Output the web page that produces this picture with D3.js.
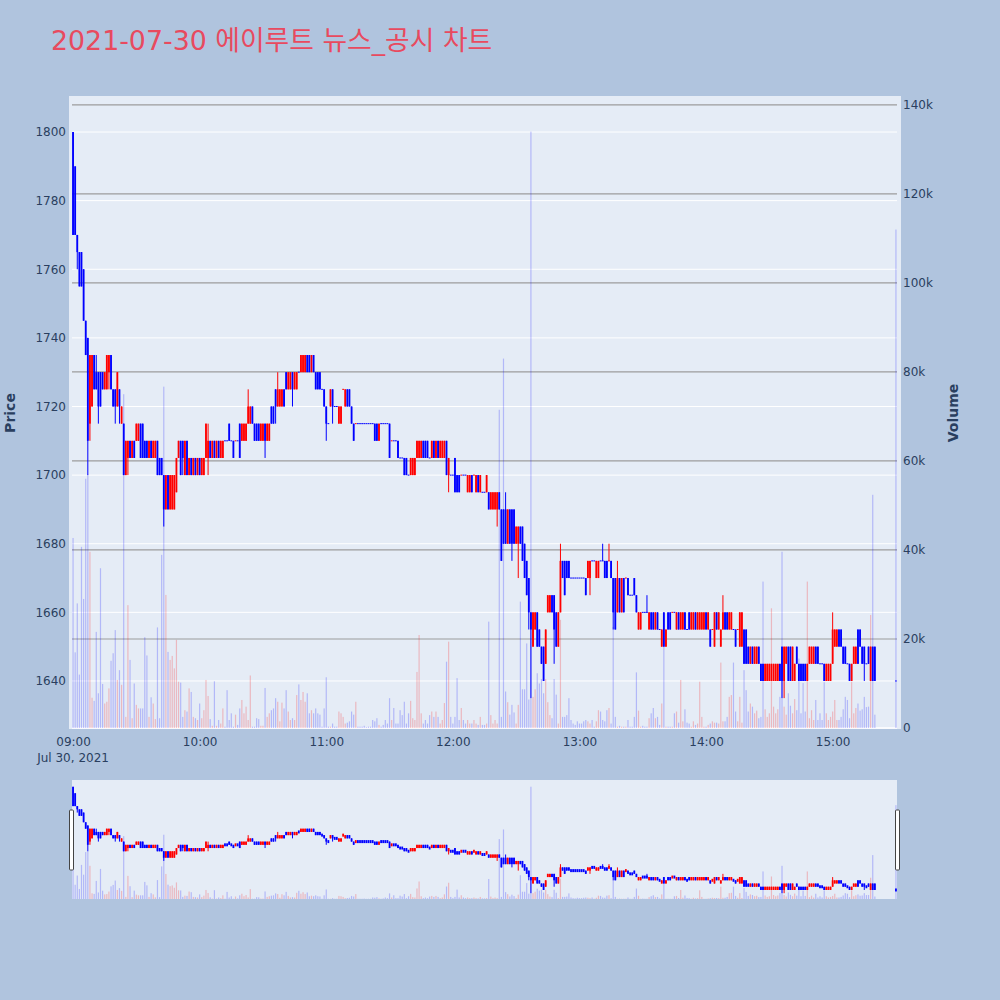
<!DOCTYPE html>
<html lang="ko">
<head>
<meta charset="utf-8">
<title>에이루트 뉴스_공시 차트</title>
<script src="https://d3js.org/d3.v7.min.js"></script>
<style>
  body { margin: 0; background: #b0c4de; }
  svg { display: block; font-family: "DejaVu Sans", "Noto Sans CJK KR", sans-serif; }
</style>
</head>
<body>
<div id="chart"></div>
<script>
// one-minute candles, 09:00 .. 15:20, then the 15:30 closing print
const minutes = d3.range(381).concat([390]);

const opens = [
  1800,1790,1770,1765,1765,1760,1745,1740,1715,1720,
  1735,1730,1730,1730,1730,1725,1725,1730,1735,1725,
  1725,1720,1725,1715,1715,1700,1705,1710,1705,1710,
  1710,1710,1715,1715,1710,1710,1705,1710,1705,1705,
  1710,1705,1705,1700,1690,1700,1690,1690,1690,1695,
  1705,1710,1710,1700,1710,1700,1705,1700,1705,1700,
  1705,1700,1700,1705,1705,1710,1705,1710,1705,1710,
  1705,1705,1710,1710,1715,1710,1710,1710,1710,1715,
  1710,1710,1710,1715,1715,1720,1715,1715,1715,1710,
  1710,1715,1710,1710,1720,1720,1725,1720,1720,1720,
  1725,1730,1725,1725,1730,1725,1725,1730,1730,1730,
  1730,1735,1735,1730,1735,1730,1730,1730,1725,1725,
  1720,1715,1720,1725,1720,1720,1715,1715,1725,1720,
  1725,1725,1720,1715,1715,1715,1715,1715,1715,1715,
  1715,1715,1715,1715,1715,1710,1715,1715,1715,1715,
  1715,1710,1710,1710,1710,1705,1705,1705,1705,1700,
  1700,1700,1700,1705,1705,1705,1710,1710,1710,1705,
  1705,1710,1705,1710,1705,1705,1705,1710,1700,1700,
  1700,1705,1700,1700,1700,1700,1700,1695,1695,1700,
  1700,1695,1700,1695,1695,1695,1695,1695,1690,1690,
  1690,1690,1695,1690,1690,1690,1680,1690,1690,1690,
  1680,1680,1685,1685,1680,1675,1670,1660,1650,1655,
  1660,1655,1650,1650,1645,1660,1660,1665,1665,1660,
  1650,1660,1675,1675,1675,1675,1670,1670,1670,1670,
  1670,1670,1670,1670,1670,1670,1675,1675,1670,1670,
  1675,1675,1675,1675,1675,1675,1670,1670,1660,1670,
  1660,1670,1670,1670,1665,1665,1670,1665,1655,1655,
  1660,1660,1660,1655,1660,1660,1655,1660,1655,1650,
  1660,1650,1660,1660,1660,1660,1655,1660,1655,1655,
  1660,1655,1660,1655,1655,1660,1655,1655,1655,1655,
  1660,1655,1655,1655,1650,1660,1655,1650,1655,1660,
  1660,1655,1655,1655,1655,1655,1650,1650,1655,1655,
  1650,1645,1650,1645,1645,1650,1645,1645,1640,1640,
  1640,1640,1640,1640,1640,1645,1650,1640,1645,1650,
  1650,1640,1640,1650,1645,1645,1645,1645,1640,1645,
  1645,1645,1650,1650,1645,1645,1645,1640,1640,1640,
  1645,1650,1650,1655,1655,1650,1650,1645,1645,1640,
  1645,1645,1655,1655,1650,1650,1645,1650,1640,1650,
  1650,
  1640
];

const highs = [
  1800,1790,1770,1765,1765,1760,1745,1740,1735,1735,
  1735,1735,1730,1730,1730,1730,1735,1735,1735,1725,
  1725,1730,1725,1720,1715,1710,1710,1710,1710,1710,
  1715,1715,1715,1715,1710,1710,1710,1710,1710,1710,
  1710,1705,1705,1700,1700,1700,1700,1700,1700,1705,
  1710,1710,1710,1710,1710,1705,1705,1705,1705,1705,
  1705,1705,1705,1715,1715,1710,1710,1710,1710,1710,
  1710,1710,1710,1710,1715,1710,1710,1710,1710,1715,
  1715,1715,1715,1725,1720,1720,1715,1715,1715,1715,
  1715,1715,1715,1715,1720,1720,1725,1730,1725,1725,
  1725,1730,1730,1730,1730,1730,1730,1730,1735,1735,
  1735,1735,1735,1735,1735,1730,1730,1730,1725,1725,
  1720,1715,1725,1725,1720,1720,1720,1720,1725,1725,
  1725,1725,1720,1715,1715,1715,1715,1715,1715,1715,
  1715,1715,1715,1715,1715,1715,1715,1715,1715,1715,
  1715,1710,1710,1710,1710,1705,1705,1705,1705,1700,
  1705,1705,1705,1710,1710,1710,1710,1710,1710,1705,
  1710,1710,1710,1710,1710,1710,1710,1710,1705,1700,
  1700,1705,1700,1700,1700,1700,1700,1700,1700,1700,
  1700,1700,1700,1700,1695,1695,1700,1695,1695,1695,
  1695,1695,1695,1690,1690,1695,1690,1690,1690,1690,
  1685,1685,1685,1685,1680,1675,1670,1660,1660,1660,
  1660,1655,1650,1650,1655,1665,1665,1665,1665,1660,
  1660,1680,1675,1675,1675,1675,1670,1670,1670,1670,
  1670,1670,1670,1670,1675,1675,1675,1675,1675,1675,
  1675,1680,1675,1675,1680,1675,1670,1670,1675,1670,
  1670,1670,1670,1670,1665,1665,1670,1665,1660,1660,
  1660,1660,1665,1660,1660,1660,1660,1660,1655,1655,
  1660,1655,1660,1660,1660,1660,1660,1660,1660,1660,
  1660,1655,1660,1660,1660,1660,1660,1660,1660,1660,
  1660,1660,1655,1655,1660,1660,1660,1655,1665,1660,
  1660,1660,1660,1655,1655,1655,1660,1660,1655,1655,
  1650,1650,1650,1650,1650,1650,1645,1645,1645,1645,
  1645,1645,1645,1645,1645,1645,1650,1650,1650,1650,
  1650,1650,1645,1650,1645,1645,1645,1645,1645,1650,
  1650,1650,1650,1650,1645,1645,1645,1645,1645,1645,
  1660,1655,1655,1655,1655,1650,1650,1645,1645,1645,
  1650,1650,1655,1655,1650,1650,1645,1650,1650,1650,
  1650,
  1640
];

const lows = [
  1770,1770,1760,1755,1755,1745,1735,1700,1710,1720,
  1725,1725,1715,1720,1725,1725,1725,1725,1725,1720,
  1715,1720,1715,1715,1700,1700,1700,1705,1705,1705,
  1710,1710,1705,1705,1705,1705,1705,1705,1705,1705,
  1700,1700,1700,1685,1690,1690,1690,1690,1690,1695,
  1705,1700,1700,1700,1700,1700,1700,1700,1700,1700,
  1700,1700,1700,1705,1700,1705,1705,1705,1705,1705,
  1705,1705,1710,1710,1710,1710,1705,1710,1710,1705,
  1710,1710,1710,1715,1715,1715,1710,1710,1710,1710,
  1710,1705,1710,1710,1715,1715,1715,1720,1720,1720,
  1720,1725,1725,1725,1720,1725,1725,1730,1730,1730,
  1730,1730,1730,1730,1730,1725,1725,1725,1725,1720,
  1710,1715,1720,1715,1720,1720,1715,1715,1725,1720,
  1720,1720,1715,1710,1715,1715,1715,1715,1715,1715,
  1715,1715,1715,1710,1710,1710,1715,1715,1715,1715,
  1705,1710,1710,1710,1705,1705,1705,1700,1700,1700,
  1700,1700,1700,1705,1705,1705,1705,1705,1705,1705,
  1705,1705,1705,1705,1705,1705,1705,1700,1695,1700,
  1700,1695,1695,1695,1700,1700,1700,1695,1695,1695,
  1700,1695,1695,1695,1695,1695,1695,1690,1690,1690,
  1690,1685,1690,1675,1680,1680,1680,1680,1675,1680,
  1680,1670,1680,1675,1670,1665,1655,1635,1650,1655,
  1650,1650,1645,1640,1645,1660,1660,1660,1645,1650,
  1650,1660,1670,1665,1670,1670,1670,1670,1670,1670,
  1670,1670,1670,1665,1670,1665,1675,1675,1670,1670,
  1675,1675,1670,1670,1675,1670,1655,1655,1660,1660,
  1660,1660,1670,1665,1665,1665,1665,1660,1655,1655,
  1660,1660,1660,1655,1655,1655,1655,1655,1655,1650,
  1650,1650,1655,1655,1660,1660,1655,1655,1655,1655,
  1655,1655,1655,1655,1655,1655,1655,1655,1655,1655,
  1655,1655,1650,1655,1650,1655,1655,1650,1655,1655,
  1655,1655,1655,1655,1650,1655,1650,1650,1645,1645,
  1645,1645,1645,1645,1645,1645,1640,1640,1640,1640,
  1640,1640,1640,1640,1640,1640,1635,1635,1645,1640,
  1640,1640,1640,1645,1640,1640,1640,1640,1640,1645,
  1645,1645,1645,1645,1645,1645,1640,1640,1640,1640,
  1645,1650,1650,1650,1650,1645,1645,1645,1640,1640,
  1645,1645,1645,1650,1645,1640,1645,1645,1640,1640,
  1640,
  1640
];

const closes = [
  1770,1770,1765,1755,1755,1745,1735,1710,1735,1735,
  1725,1725,1720,1720,1725,1730,1735,1735,1725,1720,
  1720,1730,1720,1720,1700,1710,1710,1705,1710,1705,
  1715,1715,1705,1705,1705,1705,1710,1705,1710,1710,
  1700,1700,1700,1690,1700,1690,1700,1700,1700,1705,
  1710,1700,1705,1710,1700,1705,1700,1705,1700,1705,
  1700,1705,1705,1715,1710,1705,1710,1705,1710,1705,
  1710,1710,1710,1710,1710,1710,1705,1710,1710,1705,
  1715,1715,1715,1720,1720,1715,1710,1710,1710,1715,
  1715,1710,1715,1715,1715,1715,1720,1725,1725,1725,
  1720,1725,1730,1730,1725,1730,1730,1730,1735,1735,
  1735,1730,1730,1735,1730,1725,1725,1725,1725,1720,
  1715,1715,1725,1720,1720,1720,1720,1720,1725,1725,
  1720,1720,1715,1710,1715,1715,1715,1715,1715,1715,
  1715,1715,1715,1710,1710,1715,1715,1715,1715,1715,
  1705,1710,1710,1710,1705,1705,1705,1700,1700,1700,
  1705,1705,1705,1710,1710,1710,1705,1705,1705,1705,
  1710,1705,1710,1705,1710,1710,1710,1700,1705,1700,
  1700,1695,1695,1695,1700,1700,1700,1700,1700,1695,
  1700,1700,1695,1700,1695,1695,1700,1690,1695,1695,
  1695,1695,1690,1675,1680,1680,1690,1680,1680,1680,
  1685,1685,1680,1675,1670,1665,1660,1655,1660,1660,
  1650,1650,1645,1640,1655,1665,1665,1660,1655,1650,
  1660,1675,1670,1665,1670,1670,1670,1670,1670,1670,
  1670,1670,1670,1665,1675,1675,1675,1675,1675,1675,
  1675,1675,1670,1670,1675,1670,1660,1655,1670,1660,
  1670,1660,1670,1665,1665,1665,1665,1660,1660,1660,
  1660,1660,1660,1660,1655,1655,1660,1655,1655,1655,
  1650,1655,1655,1655,1660,1660,1660,1655,1660,1660,
  1655,1655,1655,1660,1660,1655,1660,1660,1660,1660,
  1655,1660,1650,1655,1660,1655,1660,1655,1660,1655,
  1655,1660,1660,1655,1650,1655,1660,1660,1645,1645,
  1645,1650,1645,1650,1650,1645,1640,1640,1645,1645,
  1645,1645,1645,1645,1645,1640,1640,1650,1650,1640,
  1640,1650,1645,1645,1640,1640,1640,1640,1645,1650,
  1650,1650,1645,1645,1645,1645,1640,1645,1645,1645,
  1655,1655,1655,1650,1650,1645,1645,1645,1640,1645,
  1650,1650,1645,1650,1645,1645,1645,1645,1650,1640,
  1640,
  1640
];

const volumes = [
  42700,17000,28000,12000,40700,29000,56000,57000,39600,6800,
  6100,21600,7800,35900,9900,5500,5900,8900,15100,16800,
  22000,10800,13000,9700,75000,2500,27600,15300,2200,10000,
  5200,4400,4400,4400,20400,16300,2500,6900,5500,2000,
  22600,2200,38900,76700,29900,17100,15300,16200,13400,19800,
  10400,10200,2500,4000,3700,8900,8100,2500,2200,1800,
  5500,2200,4000,10800,7200,2000,500,10500,500,1800,
  1000,4400,300,8500,1800,3300,300,3000,700,4400,
  6300,3300,4800,1800,11800,300,300,2200,2000,500,
  500,9000,2500,3300,4000,4400,6700,5900,1500,5700,
  4400,8500,3700,1800,2200,1800,7400,9800,6300,8100,
  5900,7800,3300,4000,3300,4400,3300,3000,300,4400,
  11400,300,300,1000,300,300,3700,3300,2500,1000,
  1200,1500,3700,3000,5900,300,300,300,500,200,
  300,300,1800,1500,2200,700,300,700,1800,1000,
  6700,1800,4500,1000,1000,4000,2900,5900,1000,3300,
  6100,2200,1800,12600,20900,3300,1000,1800,1000,2900,
  3700,2500,3700,2500,1000,1800,5600,14900,19400,2500,
  1000,2500,11200,1800,4500,1800,1000,1800,1000,1000,
  1800,1000,700,2500,700,700,1000,23900,2900,1000,
  1800,1000,71500,2500,83000,8200,5800,3000,5200,3500,
  1000,5200,28400,8700,8700,19000,6400,134000,7000,8700,
  12300,10000,11000,7800,11000,5800,2900,2200,11000,7500,
  1000,24300,2500,2500,2900,6700,1800,1000,700,1500,
  1000,1000,1500,1800,1500,1000,1800,300,1500,4000,
  3700,1800,1500,4000,4500,1000,22700,2500,300,500,
  300,300,300,1800,300,300,2500,12500,3900,300,
  500,300,300,2200,3300,4500,2200,2500,700,5500,
  18300,300,300,300,300,3300,3700,1200,10800,1500,
  4200,1200,1000,300,1500,700,1000,10400,2500,300,
  300,700,1000,1500,1200,1200,1000,14700,1500,1500,
  2500,7000,7400,14700,3700,1500,7000,1200,13000,8500,
  3700,5500,4800,3300,3900,2200,2500,32900,4200,2500,
  3300,26900,4800,3300,4200,7000,39600,4800,3000,7800,
  5000,3300,6500,4000,15600,3300,10100,3700,32900,2200,
  4000,1800,6300,1800,3300,1800,10300,3300,1800,2500,
  3700,6300,1800,1800,2500,4200,7000,6300,2200,10400,
  3300,4500,5500,3900,4200,7000,4700,4800,25400,52400,
  3000,
  112000
];

const hourTicks = [0, 60, 120, 180, 240, 300, 360];
const hourLabels = ["09:00", "10:00", "11:00", "12:00", "13:00", "14:00", "15:00"];
const priceTicks = [1640, 1660, 1680, 1700, 1720, 1740, 1760, 1780, 1800];
const volumeTicks = [0, 20000, 40000, 60000, 80000, 100000, 120000, 140000];

const UP = "#ff0000", DOWN = "#0000ff", TEXT = "#2a3f5f";

const candles = minutes.map((m, i) => {
  const o = opens[i], c = closes[i];
  const prev = i > 0 ? closes[i - 1] : o;
  const up = c > o || (c === o && c > prev);
  return {m, o, h: highs[i], l: lows[i], c, v: volumes[i], up};
});

const svg = d3.select("#chart").append("svg")
  .attr("width", 1000).attr("height", 1000);

// title
svg.append("text")
  .attr("x", 51).attr("y", 50)
  .attr("fill", "#e84a5f")
  .style("font-size", "26.8px")
  .text("2021-07-30 에이루트 뉴스_공시 차트");

// main plot
const x = d3.scaleLinear().domain([-0.5, 390.5]).range([72, 897]);
const yPrice = d3.scaleLinear().domain([1626, 1810.5]).range([729, 96]);
const yVol = d3.scaleLinear().domain([0, 142000]).range([728, 96]);

svg.append("rect")
  .attr("x", 69).attr("y", 96).attr("width", 832).attr("height", 633)
  .attr("fill", "#e5ecf6");

svg.append("g").selectAll("line")
  .data(priceTicks)
  .join("line")
  .attr("x1", 72).attr("x2", 897)
  .attr("y1", d => yPrice(d)).attr("y2", d => yPrice(d))
  .attr("stroke", "#fff").attr("stroke-width", 1);

svg.append("g").selectAll("line")
  .data(volumeTicks)
  .join("line")
  .attr("x1", 72).attr("x2", 897)
  .attr("y1", d => yVol(d)).attr("y2", d => yVol(d))
  .attr("stroke", d => d === 0 ? "#fff" : "#9c9c9c")
  .attr("stroke-width", d => d === 0 ? 1.5 : 1.2);

function drawSeries(g, xs, yp, yv, minBody) {
  // volume bars, faint, under the candles
  g.append("g").selectAll("rect")
    .data(candles)
    .join("rect")
    .attr("x", d => xs(d.m) - 0.6)
    .attr("width", 1.2)
    .attr("y", d => yv(d.v))
    .attr("height", d => yv(0) - yv(d.v))
    .attr("fill", d => d.up ? UP : DOWN)
    .attr("fill-opacity", 0.22);

  // wicks
  g.append("g").selectAll("line")
    .data(candles.filter(d => d.h !== d.l))
    .join("line")
    .attr("x1", d => xs(d.m)).attr("x2", d => xs(d.m))
    .attr("y1", d => yp(d.h)).attr("y2", d => yp(d.l))
    .attr("stroke", d => d.up ? UP : DOWN)
    .attr("stroke-width", 1);

  // bodies
  g.append("g").selectAll("rect")
    .data(candles)
    .join("rect")
    .attr("x", d => xs(d.m) - 0.9)
    .attr("width", 1.8)
    .attr("y", d => {
      const top = yp(Math.max(d.o, d.c)), h = Math.abs(yp(d.o) - yp(d.c));
      return h < minBody ? top - (minBody - h) / 2 : top;
    })
    .attr("height", d => Math.max(minBody, Math.abs(yp(d.o) - yp(d.c))))
    .attr("fill", d => d.up ? UP : DOWN);
}

drawSeries(svg.append("g"), x, yPrice, yVol, 1);

// axes
const axisLeft = svg.append("g")
  .attr("transform", "translate(72,0)")
  .call(d3.axisLeft(yPrice).tickValues(priceTicks).tickSize(0).tickPadding(6)
    .tickFormat(d3.format("d")));

const axisRight = svg.append("g")
  .attr("transform", "translate(897,0)")
  .call(d3.axisRight(yVol).tickValues(volumeTicks).tickSize(0).tickPadding(6)
    .tickFormat(d => d === 0 ? "0" : (d / 1000) + "k"));

const axisBottom = svg.append("g")
  .attr("transform", "translate(0,729)")
  .call(d3.axisBottom(x).tickValues(hourTicks).tickSize(0).tickPadding(8)
    .tickFormat((d, i) => hourLabels[i]));

[axisLeft, axisRight, axisBottom].forEach(a => {
  a.select(".domain").remove();
  a.selectAll("text")
    .attr("fill", TEXT)
    .style("font-size", "12px")
    .style("font-family", "'DejaVu Sans', sans-serif");
});

svg.append("text")
  .attr("x", x(0)).attr("y", 762)
  .attr("text-anchor", "middle")
  .attr("fill", TEXT)
  .style("font-size", "12px")
  .text("Jul 30, 2021");

svg.append("text")
  .attr("transform", "translate(15,413) rotate(-90)")
  .attr("text-anchor", "middle")
  .attr("fill", TEXT)
  .style("font-size", "14px")
  .style("font-weight", "bold")
  .text("Price");

svg.append("text")
  .attr("transform", "translate(958,413) rotate(-90)")
  .attr("text-anchor", "middle")
  .attr("fill", TEXT)
  .style("font-size", "14px")
  .style("font-weight", "bold")
  .text("Volume");

// range slider
const xn = d3.scaleLinear().domain([-0.5, 390.5]).range([72, 897]);
const yPn = d3.scaleLinear().domain([1626, 1810.5]).range([899, 780]);
const yVn = d3.scaleLinear().domain([0, 142000]).range([899, 780]);

svg.append("rect")
  .attr("x", 72).attr("y", 780).attr("width", 825).attr("height", 119)
  .attr("fill", "#e5ecf6");

drawSeries(svg.append("g"), xn, yPn, yVn, 3);

svg.append("g").selectAll("rect")
  .data([69.5, 895.5])
  .join("rect")
  .attr("x", d => d).attr("y", 810)
  .attr("width", 4).attr("height", 60)
  .attr("rx", 1)
  .attr("fill", "#fff")
  .attr("stroke", "#444")
  .attr("stroke-width", 1);
</script>
</body>
</html>
